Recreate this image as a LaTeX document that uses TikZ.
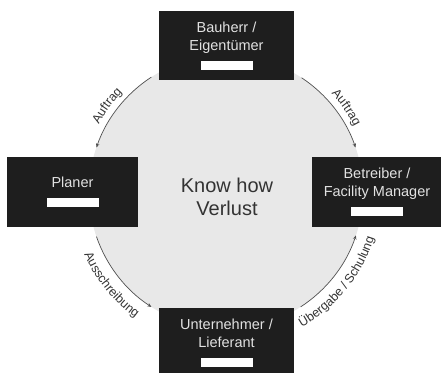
\documentclass[tikz,border=0pt]{standalone}
\usepackage{fontspec}
\setmainfont{Liberation Sans}
\usetikzlibrary{arrows.meta, decorations.text}
\definecolor{dunkel}{HTML}{1E1E1E}
\definecolor{kreisgrau}{HTML}{E8E8E8}
\definecolor{schrift}{HTML}{E2E2E2}
\definecolor{linie}{HTML}{505050}
\newcommand{\beschriftung}{\fontsize{12.5}{13}\selectfont\color{black!80}}

\begin{document}
\begin{tikzpicture}[
  x=1pt, y=-1pt,
  kasten/.style={fill=dunkel, text=schrift, align=center, inner sep=0pt,
                 font=\fontsize{14.5}{18}\selectfont},
  pfeil/.style={draw=linie, line width=0.7pt, -{Stealth[length=4pt,width=3.5pt]}},
  bogentext/.style={decorate, decoration={text along path, text align=center, text={#1}}}
]
\useasboundingbox (0,0) rectangle (441,372);

% ---- Kreis in der Mitte ----------------------------------------------
\coordinate (mitte) at (226,192);
\fill[kreisgrau] (mitte) circle[radius=137];
\node[align=center, text=black!80, font=\fontsize{20}{23}\selectfont] (knowhow) at (227,197)
  {Know how\\Verlust};

% ---- Boegen mit Pfeilen ------------------------------------------------
\draw[pfeil] (mitte) ++(-123:137) arc[start angle=-123, end angle=-161, radius=137];
\draw[pfeil] (mitte) ++(-56.5:137) arc[start angle=-56.5, end angle=-19, radius=137];
\draw[pfeil] (mitte) ++(-199:137) arc[start angle=-199, end angle=-237, radius=137];
\draw[pfeil] (mitte) ++(-303:137) arc[start angle=-303, end angle=-341.5, radius=137];

\path[bogentext={|\beschriftung|Auftrag}] (mitte) ++(-170:144) arc[start angle=-170, end angle=-118, radius=144];
\path[bogentext={|\beschriftung|Auftrag}] (mitte) ++(-61:144) arc[start angle=-61, end angle=-9, radius=144];
\path[bogentext={|\beschriftung|Ausschreibung}] (mitte) ++(-186:155) arc[start angle=-186, end angle=-252, radius=155];
\path[bogentext={|\beschriftung|Übergabe / Schulung}] (mitte) ++(-286:155) arc[start angle=-286, end angle=-356, radius=155];

% ---- Kaesten -------------------------------------------------------------
% name / x / y / breite / hoehe / text
\foreach \name/\X/\Y/\B/\H/\testo in {%
  bauherr/226.5/45.5/135/69/{Bauherr /\\Eigentümer},
  planer/72.5/192/131/70/{Planer},
  betreiber/377/192/130/70/{Betreiber /\\Facility Manager},
  unternehmer/226.5/342.5/135/69/{Unternehmer /\\Lieferant}} {
  \node[kasten, minimum width=\B, minimum height=\H] (\name) at (\X,\Y)
    {\testo\\[1.5pt]{\color{white}\rule{52pt}{9pt}}};
}

\end{tikzpicture}
\end{document}
